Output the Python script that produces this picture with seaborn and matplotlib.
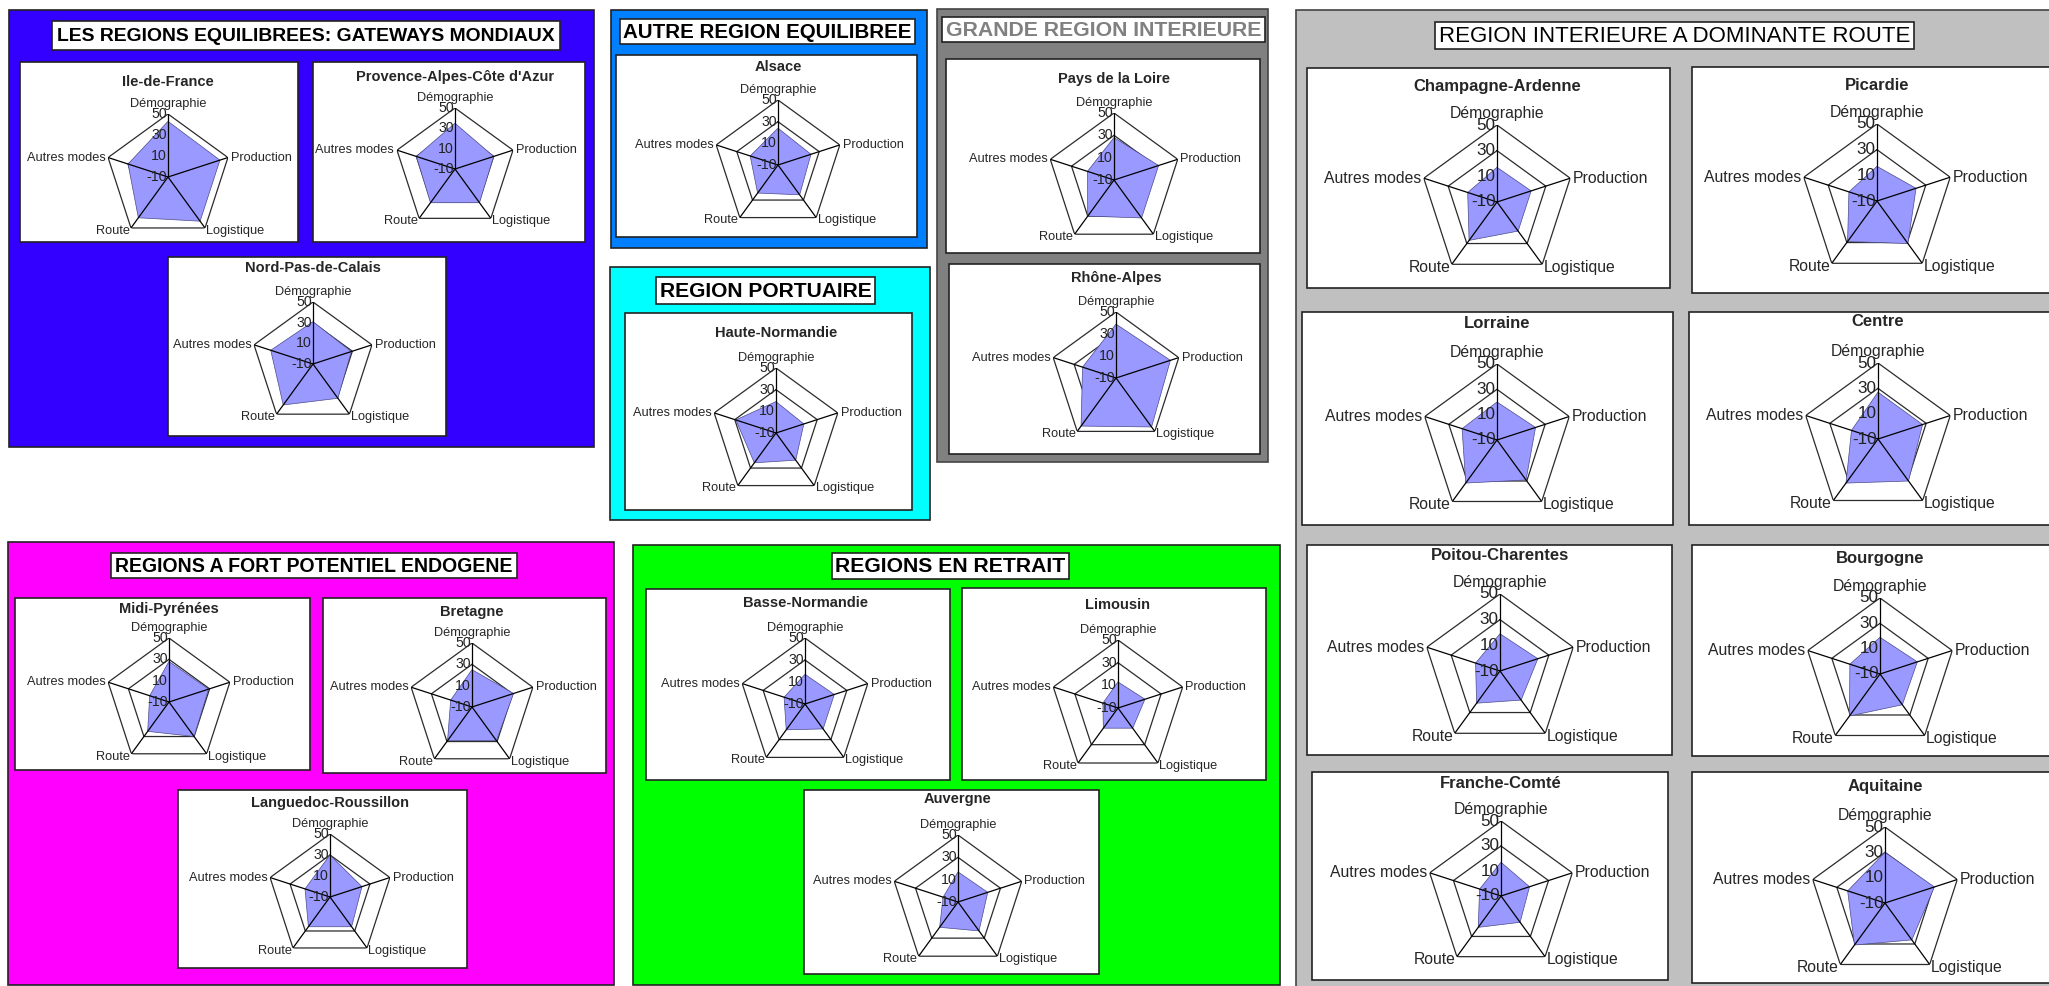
import matplotlib
matplotlib.use("Agg")
import matplotlib.pyplot as plt
from matplotlib import font_manager
from matplotlib.patches import Rectangle
import numpy as np
import seaborn as sns

sns.set_style("white")

# radar axes, clockwise from the top
dimensions = ["Démographie", "Production", "Logistique", "Route", "Autres modes"]
ring_levels = [30, 50]
tick_values = [50, 30, 10, -10]

# scores (same order as dimensions)
ile_de_france = [43, 42, 42, 38, 30]
paca = [35, 30, 31, 31, 30]
nord_pas_de_calais = [31, 29, 31, 39, 33]
alsace = [24, 22, 24, 22, 17]
haute_normandie = [19, 17, 21, 24, 29]
pays_de_la_loire = [28, 32, 32, 30, 15]
rhone_alpes = [39, 42, 45, 44, 22]
champagne_ardenne = [17, 18, 18, 27, 14]
picardie = [17, 22, 31, 29, 13]
lorraine = [20, 22, 29, 32, 19]
centre = [27, 27, 31, 33, 12]
poitou_charentes = [19, 21, 18, 21, 10]
bourgogne = [19, 21, 20, 31, 15]
franche_comte = [17, 14, 16, 21, 8]
aquitaine = [30, 31, 26, 31, 21]
midi_pyrenees = [28, 29, 30, 24, 9]
bretagne = [25, 31, 29, 29, 11]
languedoc = [30, 22, 25, 25, 15]
basse_normandie = [17, 18, 18, 19, 10]
limousin = [13, 15, 12, 12, 4]
auvergne = [17, 18, 22, 18, 4]

W, H = 2049, 986


def pick_font(names):
    for n in names:
        try:
            font_manager.findfont(font_manager.FontProperties(family=n),
                                  fallback_to_default=False)
            return n
        except ValueError:
            pass
    return "DejaVu Sans"


FONT = pick_font(["Liberation Sans Narrow", "Arial Narrow", "Liberation Sans"])
plt.rcParams["font.family"] = [FONT, "DejaVu Sans"]

fig = plt.figure(figsize=(W / 100, H / 100), dpi=100)
fig.patch.set_facecolor("white")
bg = fig.add_axes([0, 0, 1, 1])
bg.set_xlim(0, W)
bg.set_ylim(H, 0)
bg.axis("off")
renderer = fig.canvas.get_renderer()


def rect(x0, y0, x1, y1, face, edge="#222222", lw=1.2):
    bg.add_patch(Rectangle((x0, y0), x1 - x0, y1 - y0, facecolor=face,
                           edgecolor=edge, lw=lw))


def group_title(text, box, color="black", weight="bold"):
    x0, y0, x1, y1 = box
    rect(x0, y0, x1, y1, "white", "#222222", 1.2)
    t = bg.text((x0 + x1) / 2, (y0 + y1) / 2 + 1, text, ha="center", va="center",
                fontsize=14, fontweight=weight, color=color)
    w = t.get_window_extent(renderer).width
    t.set_fontsize(14 * (x1 - x0 - 6) / w)


def radar(name, values, box, center, radius, title_y, big=False):
    x0, y0, x1, y1 = box
    rect(x0, y0, x1, y1, "white", "#222222", 1.2)
    cx, cy = center
    bg.text(cx, title_y, name, ha="center", va="center",
            fontsize=12 if big else 10.5, fontweight="bold")
    lab_fs = 11.3 if big else 9.2

    ax = fig.add_axes([(cx - radius) / W, 1 - (cy + radius) / H,
                       2 * radius / W, 2 * radius / H], projection="polar")
    ax.set_theta_zero_location("N")
    ax.set_theta_direction(-1)
    ax.grid(False)
    ax.set_xticks([])
    ax.set_yticks([])
    ax.spines["polar"].set_visible(False)
    ax.patch.set_visible(False)

    theta = np.linspace(0, 2 * np.pi, len(dimensions), endpoint=False)
    closed = np.append(theta, theta[0])
    for lvl in ring_levels:
        ax.plot(closed, [lvl] * len(closed), color="#2b2b2b", lw=0.9, zorder=2)
    vals = np.append(values, values[0])
    ax.fill(closed, vals, facecolor="#9999ff", edgecolor="#4a4a8a", lw=0.5, zorder=3)
    for t in theta:
        ax.plot([t, t], [-10, 50], color="black", lw=0.9, zorder=4)
    ax.set_ylim(-10, 50)

    offsets = [((0, 3), "center", "bottom"), ((2, 0), "left", "center"),
               ((1, -2), "left", "center"), ((-1, -2), "right", "center"),
               ((-2, 0), "right", "center")]
    for t, lab, (off, ha, va) in zip(theta, dimensions, offsets):
        ax.annotate(lab, xy=(t, 50), xytext=off, textcoords="offset points",
                    ha=ha, va=va, fontsize=lab_fs, annotation_clip=False, zorder=5)
    for v in tick_values:
        ax.annotate(str(v), xy=(0, v), xytext=(-1, 0), textcoords="offset points",
                    ha="right", va="center", fontsize=lab_fs + 1,
                    color="#222222", annotation_clip=False, zorder=5)


# --- LES REGIONS EQUILIBREES
rect(9, 10, 594, 447, "#3300ff")
group_title("LES REGIONS EQUILIBREES: GATEWAYS MONDIAUX", (52, 21, 560, 50))
radar("Ile-de-France", ile_de_france, (20, 62, 298, 242), (168, 177), 63, 82)
radar("Provence-Alpes-Côte d'Azur", paca, (313, 62, 585, 242), (455, 169), 61, 77)
radar("Nord-Pas-de-Calais", nord_pas_de_calais, (168, 257, 446, 436), (313, 364), 62, 268)

# --- AUTRE REGION EQUILIBREE
rect(611, 10, 927, 248, "#0080ff")
group_title("AUTRE REGION EQUILIBREE", (620, 19, 915, 44))
radar("Alsace", alsace, (616, 55, 917, 237), (778, 165), 65, 67)

# --- REGION PORTUAIRE
rect(610, 267, 930, 520, "#00ffff")
group_title("REGION PORTUAIRE", (656, 277, 875, 304))
radar("Haute-Normandie", haute_normandie, (625, 313, 912, 510), (776, 433), 65, 333)

# --- GRANDE REGION INTERIEURE
rect(937, 9, 1268, 462, "#808080", "#444444")
group_title("GRANDE REGION INTERIEURE", (942, 17, 1265, 42), color="#808080")
radar("Pays de la Loire", pays_de_la_loire, (946, 59, 1260, 253), (1114, 180), 67, 79)
radar("Rhône-Alpes", rhone_alpes, (949, 264, 1260, 454), (1116, 378), 66, 278)

# --- REGION INTERIEURE A DOMINANTE ROUTE
rect(1296, 10, 2060, 995, "#c0c0c0", "#444444")
group_title("REGION INTERIEURE A DOMINANTE ROUTE", (1435, 22, 1914, 49), weight="normal")
radar("Champagne-Ardenne", champagne_ardenne, (1307, 68, 1670, 288), (1497, 202), 77, 87, True)
radar("Picardie", picardie, (1692, 67, 2055, 293), (1877, 201), 77, 86, True)
radar("Lorraine", lorraine, (1302, 312, 1673, 525), (1497, 440), 76, 323, True)
radar("Centre", centre, (1689, 312, 2055, 525), (1878, 439), 76, 322, True)
radar("Poitou-Charentes", poitou_charentes, (1307, 545, 1672, 755), (1500, 671), 77, 555, True)
radar("Bourgogne", bourgogne, (1692, 545, 2055, 756), (1880, 674), 76, 559, True)
radar("Franche-Comté", franche_comte, (1312, 772, 1668, 980), (1501, 896), 75, 784, True)
radar("Aquitaine", aquitaine, (1692, 772, 2055, 983), (1885, 903), 76, 787, True)

# --- REGIONS A FORT POTENTIEL ENDOGENE
rect(8, 542, 614, 985, "#ff00ff")
group_title("REGIONS A FORT POTENTIEL ENDOGENE", (111, 553, 517, 578))
radar("Midi-Pyrénées", midi_pyrenees, (15, 598, 310, 770), (169, 702), 64, 609)
radar("Bretagne", bretagne, (323, 598, 606, 773), (472, 707), 64, 612)
radar("Languedoc-Roussillon", languedoc, (178, 790, 467, 968), (330, 897), 63, 803)

# --- REGIONS EN RETRAIT
rect(633, 545, 1280, 985, "#00ff00")
group_title("REGIONS EN RETRAIT", (832, 553, 1069, 579))
radar("Basse-Normandie", basse_normandie, (646, 589, 950, 780), (805, 704), 66, 603)
radar("Limousin", limousin, (962, 588, 1266, 780), (1118, 708), 68, 605)
radar("Auvergne", auvergne, (804, 790, 1099, 974), (958, 902), 67, 799)

fig.savefig("out.png", dpi=100)
